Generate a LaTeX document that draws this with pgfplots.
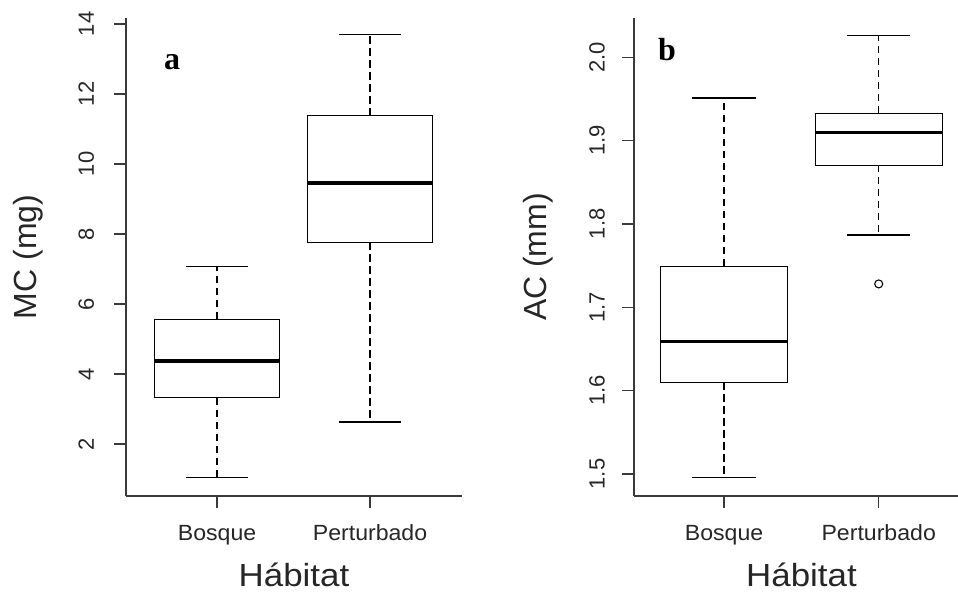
\documentclass[border=0pt]{standalone}
\usepackage{fontspec}
\setmainfont{Liberation Sans}
\newfontfamily\panelfont{Liberation Serif}
\usepackage{pgfplots}
\pgfplotsset{compat=1.18}
\usepgfplotslibrary{statistics}

\definecolor{axisgray}{HTML}{3A3A3A}
\definecolor{textgray}{HTML}{262626}

\pgfplotsset{
  rpanel/.style={
    scale only axis, width=252pt, height=358.5pt,
    anchor=south west,
    axis lines=left,
    axis line style={-, draw=axisgray, line width=0.9pt},
    enlargelimits=false, clip=false,
    xtick={1,2}, xticklabels={Bosque,Perturbado},
    tick align=outside, major tick length=9pt,
    tick style={draw=axisgray, line width=0.9pt},
    /pgf/number format/assume math mode=true,
    ticklabel style={font=\fontsize{16.5}{19}\selectfont, text=textgray},
    yticklabel style={rotate=90, anchor=base},
    xticklabel style={anchor=base, xscale=1.05},
    yticklabel shift=15pt,
    xticklabel shift=24pt,
    label style={font=\fontsize{24}{28}\selectfont, text=textgray},
    xlabel={Hábitat},
    xlabel style={at={(axis description cs:0.5,-0.19)}, anchor=base, xscale=1.09},
  },
  % R-style box: solid box, dashed whiskers, solid caps, heavy median
  rbox/.style={
    black, line width=0.9pt, solid,
    boxplot/draw direction=y,
    boxplot/box extend=0.82,
    boxplot/whisker extend=0.41,
    boxplot/draw/box/.code={
      \draw[solid, line width=0.9pt]
        (boxplot box cs:\pgfplotsboxplotvalue{lower quartile},0) rectangle
        (boxplot box cs:\pgfplotsboxplotvalue{upper quartile},1);
    },
    boxplot/draw/median/.code={
      \draw[solid, line width=2.9pt]
        (boxplot box cs:\pgfplotsboxplotvalue{median},0) --
        (boxplot box cs:\pgfplotsboxplotvalue{median},1);
    },
    boxplot/draw/lower whisker/.code={
      \draw[line width=0.9pt, dash pattern=on 5.5pt off 3.5pt]
        (boxplot cs:\pgfplotsboxplotvalue{lower quartile}) --
        (boxplot cs:\pgfplotsboxplotvalue{lower whisker});
      \draw[solid, line width=0.9pt]
        (boxplot whisker cs:\pgfplotsboxplotvalue{lower whisker},0) --
        (boxplot whisker cs:\pgfplotsboxplotvalue{lower whisker},1);
    },
    boxplot/draw/upper whisker/.code={
      \draw[line width=0.9pt, dash pattern=on 5.5pt off 3.5pt]
        (boxplot cs:\pgfplotsboxplotvalue{upper quartile}) --
        (boxplot cs:\pgfplotsboxplotvalue{upper whisker});
      \draw[solid, line width=0.9pt]
        (boxplot whisker cs:\pgfplotsboxplotvalue{upper whisker},0) --
        (boxplot whisker cs:\pgfplotsboxplotvalue{upper whisker},1);
    },
    mark=o, mark size=3pt, mark options={solid, line width=0.8pt},
  },
}

\begin{document}
\begin{tikzpicture}
\useasboundingbox (0,0) rectangle (718.5pt,444.75pt);
\clip (0,0) rectangle (718.5pt,444.75pt);

% Panel a: MC (mg)
\begin{axis}[rpanel,
  at={(94.5pt,72.75pt)},
  xmin=0.405, xmax=2.601,
  ymin=0.514, ymax=14.171,
  ytick={2,4,6,8,10,12,14},
  ylabel={MC (mg)},
  ylabel style={at={(axis description cs:-0.265,0.5)}, anchor=base},
]
\addplot[rbox, boxplot prepared={draw position=1,
  lower whisker=1.04, lower quartile=3.32, median=4.37,
  upper quartile=5.56, upper whisker=7.06}] coordinates {};
\addplot[rbox, boxplot prepared={draw position=2,
  lower whisker=2.63, lower quartile=7.76, median=9.46,
  upper quartile=11.38, upper whisker=13.69}] coordinates {};
\node[anchor=base, font=\panelfont\bfseries\fontsize{24}{28}\selectfont]
  at (axis cs:0.706,12.71) {a};
\end{axis}

% Panel b: AC (mm)
\begin{axis}[rpanel,
  at={(475.5pt,72.75pt)},
  xmin=0.418, xmax=2.59,
  ymin=1.4736, ymax=2.047,
  ytick={1.5,1.6,1.7,1.8,1.9,2.0},
  yticklabel style={/pgf/number format/.cd, fixed, fixed zerofill, precision=1},
  yticklabel shift=13pt,
  ylabel={AC (mm)},
  ylabel style={at={(axis description cs:-0.259,0.5)}, anchor=base},
  xlabel style={at={(axis description cs:0.4985,-0.19)}},
]
\addplot[rbox, boxplot prepared={draw position=1,
  lower whisker=1.4956, lower quartile=1.610, median=1.659,
  upper quartile=1.749, upper whisker=1.951}] coordinates {};
\addplot[rbox, boxplot prepared={draw position=2,
  lower whisker=1.7866, lower quartile=1.8705, median=1.9097,
  upper quartile=1.9325, upper whisker=2.026}]
  table[row sep=\\, y index=0] {v\\ 1.728\\};
\node[anchor=base, font=\panelfont\bfseries\fontsize{24}{28}\selectfont]
  at (axis cs:0.631,1.996) {b};
\end{axis}
\end{tikzpicture}
\end{document}
